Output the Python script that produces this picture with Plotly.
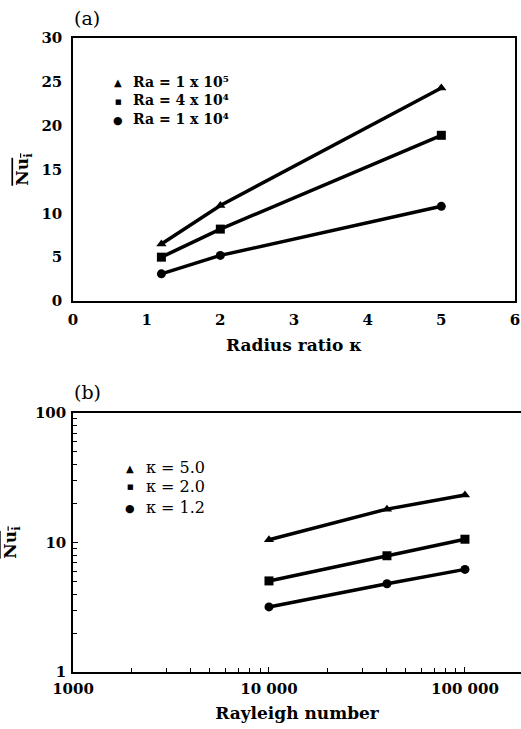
import plotly.graph_objects as go

# Panel (a): Nu vs radius ratio
kappa = [1.2, 2.0, 5.0]
nu_ra1e5 = [6.5, 10.9, 24.3]
nu_ra4e4 = [5.0, 8.2, 18.9]
nu_ra1e4 = [3.1, 5.2, 10.8]

# Panel (b): Nu vs Rayleigh number
rayleigh = [10000, 40000, 100000]
nu_k50 = [10.5, 18.1, 23.3]
nu_k20 = [5.05, 7.9, 10.6]
nu_k12 = [3.18, 4.8, 6.2]

a_labels = ["Ra = 1 x 10\u2075", "Ra = 4 x 10\u2074", "Ra = 1 x 10\u2074"]
b_labels = ["\u03ba = 5.0", "\u03ba = 2.0", "\u03ba = 1.2"]
symbols = ["triangle-up", "square", "circle"]
glyphs = ["\u25B2", "\u25A0", "\u25CF"]
glyph_sizes = [10, 7, 11]

W, H = 521, 729
FONT = "DejaVu Serif"

fig = go.Figure()
for ys, sym in zip([nu_ra1e5, nu_ra4e4, nu_ra1e4], symbols):
    fig.add_trace(go.Scatter(x=kappa, y=ys, mode="lines+markers", xaxis="x", yaxis="y",
                             line=dict(color="black", width=3.5),
                             marker=dict(symbol=sym, size=9, color="black"), showlegend=False))
for ys, sym in zip([nu_k50, nu_k20, nu_k12], symbols):
    fig.add_trace(go.Scatter(x=rayleigh, y=ys, mode="lines+markers", xaxis="x2", yaxis="y2",
                             line=dict(color="black", width=3.5),
                             marker=dict(symbol=sym, size=9, color="black"), showlegend=False))

def px(x): return x / W
def py(y): return 1 - y / H

axfont = dict(family=FONT, size=15, color="black", weight="bold")
titlefont = dict(family=FONT, size=17, color="black", weight="bold")
common = dict(showline=True, linecolor="black", linewidth=1.5, mirror=True, automargin=False,
              showgrid=False, zeroline=False, tickfont=axfont)

minor_x = [m * 10 ** k for k in (3, 4, 5) for m in range(2, 10)]
minor_y = [m * 10 ** k for k in (0, 1) for m in range(2, 10)]
ytitle = "<span style='text-decoration:overline'>Nu<sub>i</sub></span>"

fig.update_layout(
    width=W, height=H, margin=dict(l=0, r=0, t=0, b=0, autoexpand=False),
    plot_bgcolor="white", paper_bgcolor="white",
    font=dict(family=FONT, color="black"),
    xaxis=dict(domain=[px(73), px(515)], range=[0, 6], dtick=1, anchor="y", ticks="",
               ticklabelstandoff=4,
               title=dict(text="Radius ratio \u03ba", font=titlefont, standoff=11),
               **common),
    yaxis=dict(domain=[py(301), py(38)], range=[0, 30], dtick=5, anchor="x", ticks="",
               ticklabelstandoff=6,
               title=dict(text=ytitle, font=dict(family=FONT, size=17, weight="bold"), standoff=8),
               **common),
    xaxis2=dict(domain=[px(73), 1.0], type="log", range=[3, 5.286], anchor="y2",
                tickvals=[1000, 10000, 100000], ticktext=["1000", "10 000", "100 000"],
                ticks="inside", ticklen=5, tickcolor="black", ticklabelstandoff=2,
                minor=dict(ticks="inside", ticklen=4, tickcolor="black", tickvals=minor_x),
                title=dict(text="Rayleigh number", font=titlefont, standoff=10),
                **common),
    yaxis2=dict(domain=[py(672), py(413)], type="log", range=[0, 2], anchor="x2",
                tickvals=[1, 10, 100], ticktext=["1", "10", "100"],
                ticks="inside", ticklen=5, tickcolor="black", ticklabelstandoff=2,
                minor=dict(ticks="inside", ticklen=4, tickcolor="black", tickvals=minor_y),
                title=dict(text=ytitle, font=dict(family=FONT, size=17, weight="bold"), standoff=14),
                **common),
)

ann = []
ann.append(dict(text="(a)", x=px(72), y=py(18), xref="paper", yref="paper", xanchor="left",
                yanchor="middle", showarrow=False, font=dict(family=FONT, size=19)))
ann.append(dict(text="(b)", x=px(72), y=py(392), xref="paper", yref="paper", xanchor="left",
                yanchor="middle", showarrow=False, font=dict(family=FONT, size=19)))
a_rows = [82, 100.5, 119]
b_rows = [467, 486, 507]
for i, (g, t) in enumerate(zip(glyphs, a_labels)):
    ann.append(dict(text=g, x=px(118), y=py(a_rows[i] + 1), xref="paper", yref="paper",
                    xanchor="center", yanchor="middle", showarrow=False,
                    font=dict(family=FONT, size=glyph_sizes[i])))
    ann.append(dict(text=t, x=px(131), y=py(a_rows[i]), xref="paper", yref="paper",
                    xanchor="left", yanchor="middle", showarrow=False,
                    font=dict(family=FONT, size=14, weight="bold")))
for i, (g, t) in enumerate(zip(glyphs, b_labels)):
    ann.append(dict(text=g, x=px(130), y=py(b_rows[i] + 1), xref="paper", yref="paper",
                    xanchor="center", yanchor="middle", showarrow=False,
                    font=dict(family=FONT, size=glyph_sizes[i])))
    ann.append(dict(text=t, x=px(144), y=py(b_rows[i]), xref="paper", yref="paper",
                    xanchor="left", yanchor="middle", showarrow=False,
                    font=dict(family=FONT, size=16)))
fig.update_layout(annotations=ann)

fig.write_html("out.html")
